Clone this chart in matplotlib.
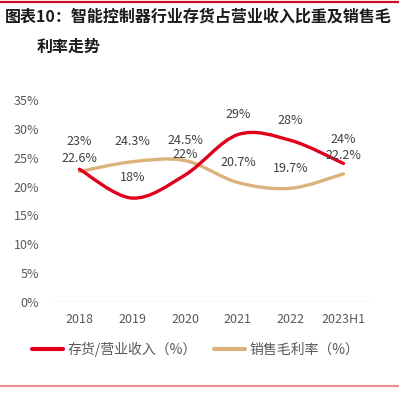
import matplotlib

matplotlib.use("Agg")

import matplotlib.pyplot as plt
from matplotlib.lines import Line2D
from matplotlib.patches import PathPatch
from matplotlib.path import Path
from matplotlib.ticker import FuncFormatter

plt.rcParams["font.family"] = ["Noto Sans CJK SC", "DejaVu Sans"]

# data
categories = ["2018", "2019", "2020", "2021", "2022", "2023H1"]
inventory_ratio = [23, 18, 22, 29, 28, 24]
gross_margin = [22.6, 24.3, 24.5, 20.7, 19.7, 22.2]
inventory_labels = ["23%", "18%", "22%", "29%", "28%", "24%"]
margin_labels = ["22.6%", "24.3%", "24.5%", "20.7%", "19.7%", "22.2%"]

RED = "#e0001b"
TAN = "#dcb27c"


def smooth_path(xs, ys):
	# Excel-like smoothed line: cubic bezier through every point
	pts = list(zip(xs, ys))
	verts = [pts[0]]
	codes = [Path.MOVETO]
	n = len(pts)
	for i in range(n - 1):
		p0 = pts[max(i - 1, 0)]
		p1 = pts[i]
		p2 = pts[i + 1]
		p3 = pts[min(i + 2, n - 1)]
		c1 = (p1[0] + (p2[0] - p0[0]) / 6, p1[1] + (p2[1] - p0[1]) / 6)
		c2 = (p2[0] - (p3[0] - p1[0]) / 6, p2[1] - (p3[1] - p1[1]) / 6)
		verts += [c1, c2, p2]
		codes += [Path.CURVE4] * 3
	return Path(verts, codes)


fig = plt.figure(figsize=(3.99, 3.93), dpi=100)
ax = fig.add_axes([0.133, 0.2316, 0.794, 0.514])

x = list(range(len(categories)))
for vals, color in [(gross_margin, TAN), (inventory_ratio, RED)]:
	ax.add_patch(PathPatch(smooth_path(x, vals), facecolor="none", edgecolor=color,
		linewidth=2.4, capstyle="round", zorder=3))

# label offsets (points above the point); the first and last pairs are nudged apart
margin_dy = [9.5, 14.5, 14.5, 14.5, 14.5, 13.5]
inventory_dy = [20, 14.5, 14.5, 14.5, 14.5, 17.5]
for xi, v, t, dy in zip(x, gross_margin, margin_labels, margin_dy):
	ax.annotate(t, (xi, v), xytext=(0, dy), textcoords="offset points",
		ha="center", va="center", fontsize=9, color="#404040", zorder=4)
for xi, v, t, dy in zip(x, inventory_ratio, inventory_labels, inventory_dy):
	ax.annotate(t, (xi, v), xytext=(0, dy), textcoords="offset points",
		ha="center", va="center", fontsize=9, color="#404040", zorder=4)

ax.set_xlim(-0.5, len(categories) - 0.5)
ax.set_ylim(0, 35)
ax.set_yticks(range(0, 36, 5))
ax.yaxis.set_major_formatter(FuncFormatter(lambda v, _: f"{v:.0f}%"))
ax.set_xticks(x)
ax.set_xticklabels(categories)
ax.tick_params(length=0, labelsize=9, colors="#595959", pad=8)
ax.tick_params(axis="y", pad=10)
for s in ax.spines.values():
	s.set_visible(False)
ax.axhline(0, color="#d9d9d9", linewidth=1, zorder=1)

handles = [Line2D([], [], color=RED, linewidth=3, solid_capstyle="round"),
	Line2D([], [], color=TAN, linewidth=3, solid_capstyle="round")]
fig.legend(handles, ["存货/营业收入（%）", "销售毛利率（%）"], loc="center",
	bbox_to_anchor=(0.49, 0.112), ncol=2, frameon=False, fontsize=10,
	labelcolor="#595959", handlelength=2.3, handletextpad=0.3, columnspacing=1.2)

fig.text(0.012, 1 - 17 / 393, "图表10：智能控制器行业存货占营业收入比重及销售毛",
	ha="left", va="center", fontsize=11.5, fontweight="bold", color="#1a1a1a")
fig.text(0.093, 1 - 47 / 393, "利率走势",
	ha="left", va="center", fontsize=11.5, fontweight="bold", color="#1a1a1a")

fig.add_artist(Line2D([0, 1], [1 - 2 / 393, 1 - 2 / 393], color="#c8102e", linewidth=1.6,
	transform=fig.transFigure))
fig.add_artist(Line2D([0, 1], [1 - 386 / 393, 1 - 386 / 393], color="#e89090", linewidth=1.6,
	transform=fig.transFigure))

fig.savefig("out.png", dpi=100)
